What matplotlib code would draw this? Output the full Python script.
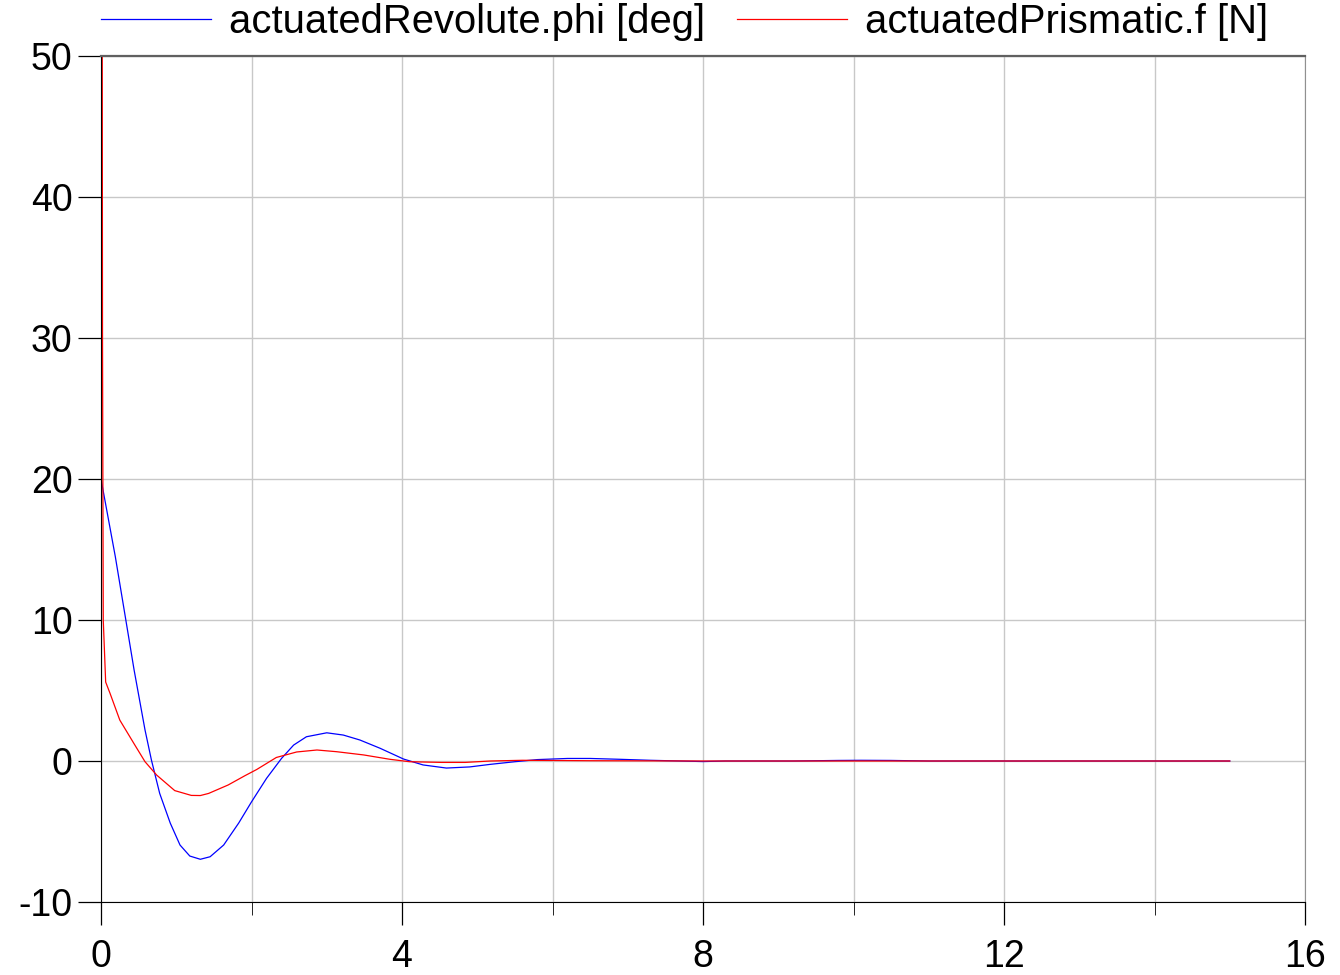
import matplotlib
matplotlib.use("Agg")
import matplotlib.pyplot as plt
from matplotlib.ticker import MultipleLocator

plt.rcParams['font.family'] = ['Liberation Sans', 'DejaVu Sans']
plt.rcParams['axes.unicode_minus'] = False

# actuatedRevolute.phi [deg]
t_phi = [0, 0.19, 0.33, 0.44, 0.585, 0.67, 0.78, 0.92, 1.05, 1.18, 1.32, 1.45,
         1.63, 1.83, 2.0, 2.2, 2.4, 2.56, 2.73, 3.0, 3.22, 3.44, 3.71, 4.02, 4.28,
         4.59, 4.9, 5.17, 5.5, 5.8, 6.2, 6.5, 6.9, 7.3, 7.7, 8.0, 8.3, 8.7, 9.2,
         9.8, 10.1, 10.5, 11, 12, 13, 14, 15]
phi = [20, 14.5, 10.0, 6.45, 2.2, 0.07, -2.3, -4.4, -5.96, -6.74, -6.97, -6.79,
       -5.96, -4.4, -2.9, -1.23, 0.19, 1.13, 1.72, 2.0, 1.84, 1.49, 0.9, 0.14, -0.28,
       -0.5, -0.42, -0.24, -0.05, 0.1, 0.18, 0.18, 0.12, 0.05, 0.0, -0.04, 0.0, 0.0, 0.0,
       0.04, 0.05, 0.04, 0.0, 0, 0, 0, 0]

# actuatedPrismatic.f [N]
t_f = [0, 0.02, 0.03, 0.062, 0.12, 0.25, 0.45, 0.585, 0.74, 0.98, 1.2, 1.32, 1.43,
       1.69, 1.91, 2.07, 2.33, 2.6, 2.87, 3.13, 3.49, 3.84, 4.1, 4.53, 4.84, 5.17,
       5.6, 6.5, 8, 10, 12, 15]
f = [150, 30, 10, 5.6, 4.8, 2.9, 1.13, -0.05, -1.0, -2.1, -2.44, -2.45, -2.3,
     -1.7, -1.05, -0.6, 0.25, 0.64, 0.78, 0.66, 0.43, 0.12, -0.05, -0.1, -0.1, 0.0,
     0.05, 0.02, 0, 0, 0, 0]

x_ticks = [0, 4, 8, 12, 16]
y_ticks = [-10, 0, 10, 20, 30, 40, 50]

fig = plt.figure(figsize=(13.4, 9.75), dpi=100)
ax = fig.add_axes([101 / 1340, 1 - 902 / 975, 1204 / 1340, 846 / 975])

ax.plot(t_phi, phi, color='#0000ff', lw=0.9, label='actuatedRevolute.phi [deg]')
ax.plot(t_f, f, color='#ff0000', lw=0.9, label='actuatedPrismatic.f [N]')

ax.set_xlim(0, 16)
ax.set_ylim(-10, 50)
ax.set_xticks(x_ticks)
ax.set_xticklabels([str(v) for v in x_ticks])
ax.xaxis.set_minor_locator(MultipleLocator(2))
ax.set_yticks(y_ticks)
ax.set_yticklabels([str(v) for v in y_ticks])

ax.grid(True, which='both', color='#c8c8c8', lw=1)
ax.set_axisbelow(True)
ax.tick_params(axis='both', which='major', direction='out', length=16.5, width=0.9,
               labelsize=27, color='black')
ax.tick_params(axis='x', which='major', pad=10)
ax.tick_params(axis='y', which='major', pad=4)
ax.tick_params(axis='x', which='minor', direction='out', length=9.5, width=0.6)

ax.spines['left'].set_color('black')
ax.spines['bottom'].set_color('black')
ax.spines['top'].set_color('#606060')
ax.spines['top'].set_linewidth(1.6)
ax.spines['right'].set_color('#909090')

ax.legend(loc='center left', bbox_to_anchor=(0, 1.040), ncol=2, frameon=False,
          borderaxespad=0, borderpad=0, fontsize=28.8, handlelength=2.75,
          handletextpad=0.45, columnspacing=0.8)

fig.savefig('out.png', dpi=100)
